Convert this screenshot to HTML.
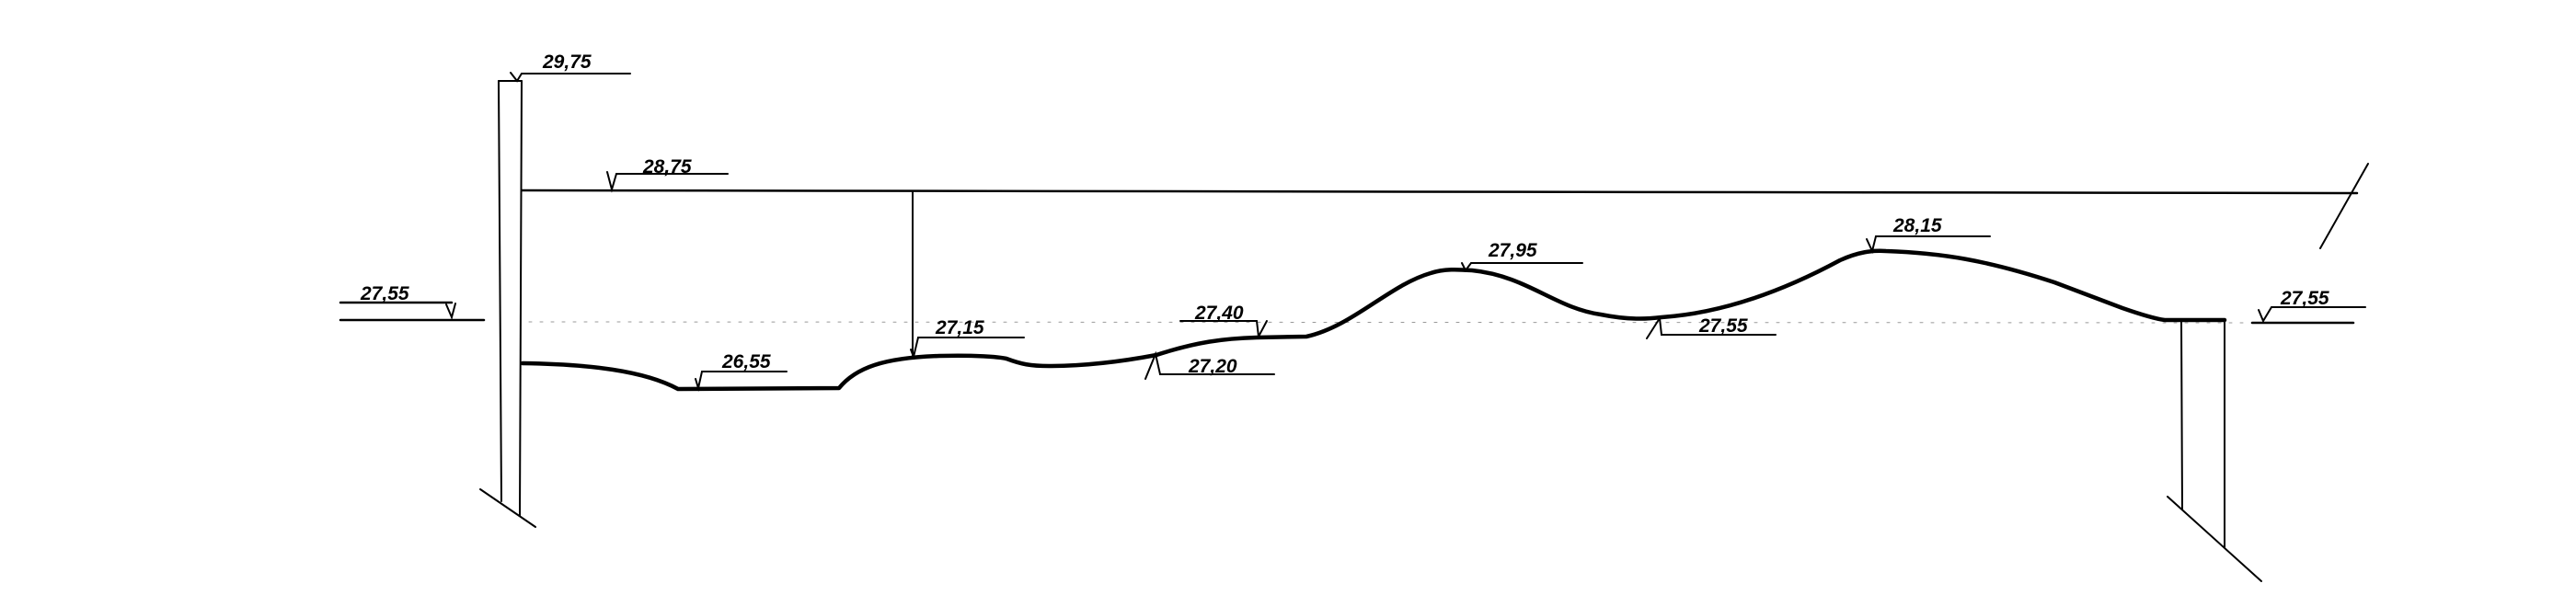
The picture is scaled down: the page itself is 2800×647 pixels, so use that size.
<!DOCTYPE html>
<html><head><meta charset="utf-8"><style>
html,body{margin:0;padding:0;background:#fff;}
svg{display:block;}
text{font-family:"Liberation Sans",sans-serif;font-size:21px;font-style:italic;font-weight:bold;fill:#000;}
</style></head><body>
<svg width="2800" height="647" viewBox="0 0 2800 647" xmlns="http://www.w3.org/2000/svg">
<g fill="none" stroke="#000" stroke-width="2" stroke-linecap="round">
<line x1="542" y1="88" x2="545" y2="545"/>
<line x1="567" y1="88" x2="565" y2="561"/>
<line x1="542" y1="88" x2="567" y2="88"/>
<line x1="522" y1="532" x2="582" y2="573"/>
<polyline points="555,79 562,88 567,80 685,80"/>
<line x1="567" y1="207" x2="2562" y2="210" stroke-width="2.5"/>
<line x1="2574" y1="178" x2="2522" y2="270"/>
<polyline points="660,187 665,206 670,189 791,189"/>
<line x1="370" y1="329" x2="491" y2="329" stroke-width="2.5"/>
<polyline points="485,331 491,345 495,330"/>
<line x1="370" y1="348" x2="526" y2="348" stroke-width="2.5"/>
<line x1="575" y1="350" x2="2450" y2="351" stroke="#999" stroke-width="1" stroke-dasharray="3,9"/>
<line x1="992" y1="208" x2="992" y2="388"/>
<polyline points="990,380 993,388 998,367 1113,367"/>
<polyline points="756,412 759,422 763,404 855,404"/>
<polyline points="1283,349 1366,349 1368,366 1377,349"/>
<polyline points="1245,412 1256,385 1261,407 1385,407"/>
<polyline points="1589,286 1593,294 1599,286 1720,286"/>
<polyline points="1790,368 1804,346 1806,364 1930,364"/>
<polyline points="2029,260 2035,273 2039,257 2163,257"/>
<line x1="2371" y1="348" x2="2372" y2="554"/>
<line x1="2418" y1="348" x2="2418" y2="595"/>
<line x1="2356" y1="540" x2="2458" y2="632"/>
<polyline points="2455,337 2460,349 2469,334 2571,334"/>
<line x1="2448" y1="351" x2="2558" y2="351" stroke-width="2.5"/>
<path d="M568,395 C640,396 700,403 737,423 L912,422 C930,400 960,389 1021,387 C1060,386 1085,388 1094,390 C1110,396 1120,398 1140,398 C1180,398 1220,393 1257,386 C1300,372 1330,368 1366,367 L1420,366 C1470,355 1510,310 1555,297 C1570,292 1585,293 1600,294 C1660,300 1690,335 1740,342 C1770,348 1790,347 1806,345 C1880,340 1950,310 2000,283 C2020,274 2035,272 2050,273 C2110,275 2160,283 2233,307 L2307,335 C2330,343 2345,347 2353,348 L2418,348" stroke-width="4.5" stroke-linejoin="round"/>
</g>
<text x="590" y="74">29,75</text>
<text x="699" y="188">28,75</text>
<text x="392" y="326">27,55</text>
<text x="1017" y="363">27,15</text>
<text x="785" y="400">26,55</text>
<text x="1299" y="347">27,40</text>
<text x="1292" y="405">27,20</text>
<text x="1618" y="279">27,95</text>
<text x="1847" y="361">27,55</text>
<text x="2058" y="252">28,15</text>
<text x="2479" y="331">27,55</text>
</svg>
</body></html>
